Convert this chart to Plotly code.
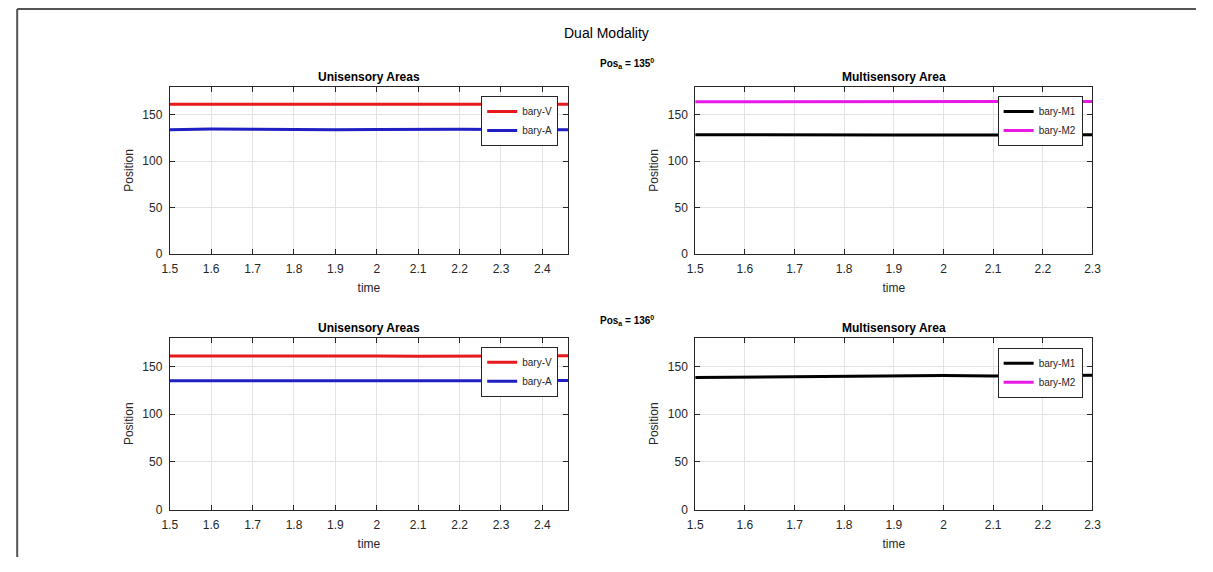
import plotly.graph_objects as go

# ---- data ----
time_uni = [1.5, 1.6, 1.7, 1.8, 1.9, 2.0, 2.1, 2.2, 2.3, 2.4, 2.462]
time_multi = [1.5, 1.6, 1.7, 1.8, 1.9, 2.0, 2.1, 2.2, 2.3]

# Pos_a = 135
bary_V_135 = [161.5, 161.6, 161.5, 161.4, 161.3, 161.4, 161.5, 161.4, 161.3, 161.3, 161.3]
bary_A_135 = [134.0, 134.6, 134.3, 133.9, 134.0, 134.1, 134.6, 134.4, 134.2, 134.0, 134.0]
bary_M1_135 = [128.5, 128.2, 127.9, 128.0, 128.1, 128.2, 128.3, 128.3, 128.4]
bary_M2_135 = [164.0, 164.1, 164.1, 164.2, 164.2, 164.2, 164.3, 164.3, 164.3]

# Pos_a = 136
bary_V_136 = [161.0, 161.1, 161.2, 161.3, 161.0, 160.9, 160.6, 160.8, 161.0, 161.1, 161.1]
bary_A_136 = [135.0, 134.8, 134.6, 134.8, 134.9, 135.0, 134.8, 134.7, 135.0, 135.2, 135.2]
bary_M1_136 = [138.5, 139.0, 139.5, 140.0, 140.6, 140.4, 140.0, 140.3, 140.8]
bary_M2_136 = [None] * 9

panel_titles = ["Unisensory Areas", "Multisensory Area"]
pos_labels = ["Pos<sub>a</sub> = 135<sup>0</sup>", "Pos<sub>a</sub> = 136<sup>0</sup>"]
fig_title = "Dual Modality"

# page body has an 8px margin; keep the figure inside the window
OFF = 8
W, H = 1213 - 2 * OFF, 572 - 2 * OFF
FONT = "Liberation Sans, Arial, Helvetica, sans-serif"
TXT = "#262626"

def px_x(p):
    return (p - OFF) / W

def px_y(p):
    return 1 - (p - OFF) / H

# axis pixel boxes (left, right, top, bottom) in window pixels
boxes = {
    1: (164, 568, 88, 257),
    2: (697, 1100, 88, 257),
    3: (164, 568, 342, 516),
    4: (697, 1100, 342, 516),
}

fig = go.Figure()

def add(ax, x, y, name, color, legend):
    xa = "x" if ax == 1 else f"x{ax}"
    ya = "y" if ax == 1 else f"y{ax}"
    fig.add_trace(go.Scatter(x=x, y=y, name=name, mode="lines",
                             line=dict(color=color, width=3),
                             xaxis=xa, yaxis=ya, legend=legend))

add(1, time_uni, bary_V_135, "bary-V", "#e8191c", "legend")
add(1, time_uni, bary_A_135, "bary-A", "#1f1fc4", "legend")
add(2, time_multi, bary_M1_135, "bary-M1", "#000000", "legend2")
add(2, time_multi, bary_M2_135, "bary-M2", "#e619e6", "legend2")
add(3, time_uni, bary_V_136, "bary-V", "#e8191c", "legend3")
add(3, time_uni, bary_A_136, "bary-A", "#1f1fc4", "legend3")
add(4, time_multi, bary_M1_136, "bary-M1", "#000000", "legend4")
add(4, time_multi, bary_M2_136, "bary-M2", "#e619e6", "legend4")

layout = dict(
    width=W, height=H,
    margin=dict(l=0, r=0, t=0, b=0),
    paper_bgcolor="white", plot_bgcolor="white",
    font=dict(family=FONT, color=TXT, size=11),
    showlegend=True,
)

for ax, (l, r, t, b) in boxes.items():
    xr = [1.5, 2.462] if ax in (1, 3) else [1.5, 2.3]
    xkey = "xaxis" if ax == 1 else f"xaxis{ax}"
    ykey = "yaxis" if ax == 1 else f"yaxis{ax}"
    xa = "x" if ax == 1 else f"x{ax}"
    ya = "y" if ax == 1 else f"y{ax}"
    common = dict(showline=True, linecolor=TXT, linewidth=1, mirror="ticks",
                  ticks="inside", ticklen=5, tickcolor=TXT,
                  showgrid=True, gridcolor="#e3e3e3", gridwidth=1,
                  zeroline=False, tickfont=dict(size=12, color=TXT))
    layout[xkey] = dict(common, domain=[px_x(l), px_x(r)], anchor=ya,
                        range=xr, tick0=1.5, dtick=0.1, ticklabelstandoff=4,
                        title=dict(text="time", font=dict(size=12, color=TXT), standoff=8))
    layout[ykey] = dict(common, domain=[px_y(b), px_y(t)], anchor=xa,
                        range=[0, 180], tickvals=[0, 50, 100, 150], ticklabelstandoff=4,
                        title=dict(text="Position", font=dict(size=12, color=TXT), standoff=6))

# legends
leg_pos = {"legend": (558, 97), "legend2": (1090, 97), "legend3": (558, 351), "legend4": (1090, 352)}
for key, (xr_, yt) in leg_pos.items():
    layout[key] = dict(x=px_x(xr_), y=px_y(yt), xanchor="right", yanchor="top",
                       xref="paper", yref="paper",
                       bgcolor="white", bordercolor="#262626", borderwidth=1,
                       font=dict(size=10, color=TXT), itemwidth=30,
                       tracegroupgap=0)

annotations = [
    dict(text=fig_title, x=px_x(607), y=px_y(33), xref="paper", yref="paper",
         showarrow=False, font=dict(size=14, color="#000000"), xanchor="center", yanchor="middle"),
]
for ax, (l, r, t, b) in boxes.items():
    annotations.append(dict(text="<b>" + panel_titles[(ax - 1) % 2] + "</b>",
                            x=px_x((l + r) / 2), y=px_y(t - 10), xref="paper", yref="paper",
                            showarrow=False, xanchor="center", yanchor="middle",
                            font=dict(size=12, color="#000000")))
for i, yc in enumerate([64, 324]):
    annotations.append(dict(text="<b>" + pos_labels[i] + "</b>", x=px_x(598), y=px_y(yc),
                            xref="paper", yref="paper", showarrow=False,
                            xanchor="left", yanchor="middle",
                            font=dict(size=10, color="#000000")))
layout["annotations"] = annotations

layout["shapes"] = [
    dict(type="line", xref="paper", yref="paper", x0=0.001, x1=1.0, y0=0.998, y1=0.998,
         line=dict(color="#555555", width=2)),
    dict(type="line", xref="paper", yref="paper", x0=0.001, x1=0.001, y0=0, y1=0.998,
         line=dict(color="#555555", width=2)),
]

fig.update_layout(**layout)
fig.write_html("out.html")
